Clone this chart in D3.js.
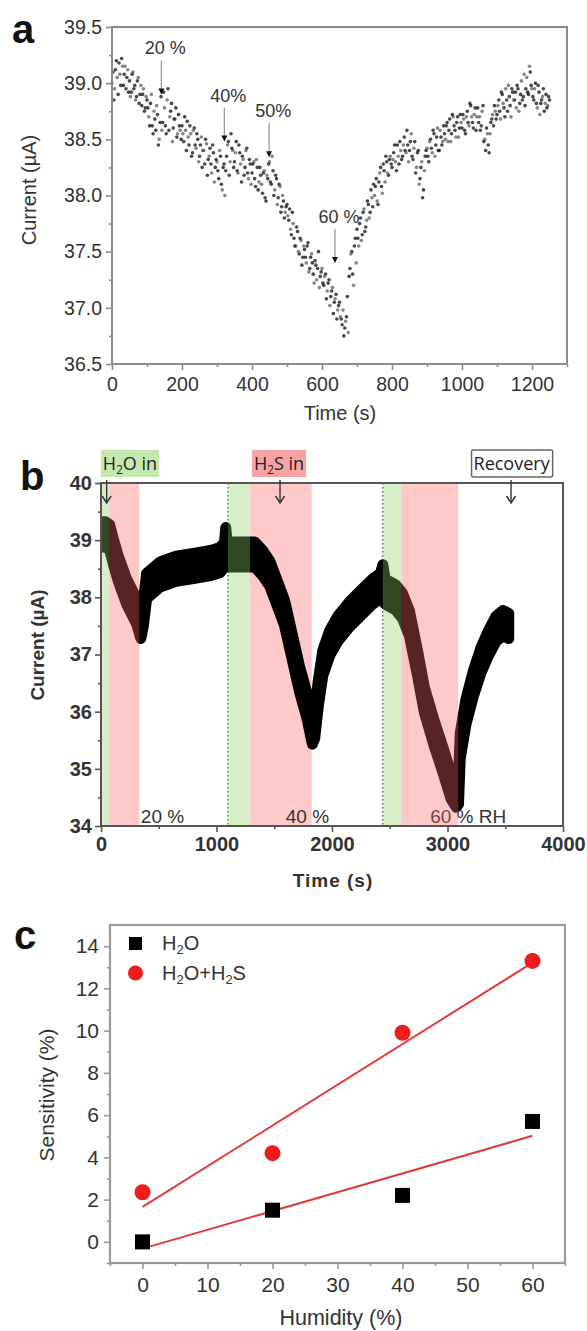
<!DOCTYPE html>
<html>
<head>
<meta charset="utf-8">
<script src="https://cdn.jsdelivr.net/npm/d3@7"></script>
<style>
  body { margin: 0; background: #fff; }
  svg { display: block; }
</style>
</head>
<body>
<div id="chart"></div>
<script>
// ---------- panel a: current vs time, two interleaved readings every 5 s
const aTicksX = [0, 200, 400, 600, 800, 1000, 1200];
const aTicksY = [36.5, 37.0, 37.5, 38.0, 38.5, 39.0, 39.5];
const aStep = 5;
const aCurrent = [
  39.00, 38.85, 39.12, 39.05, 39.18, 38.98, 39.15, 39.08, 38.95, 39.12,
  39.02, 38.92, 39.10, 38.98, 38.88, 39.05, 38.90, 38.80, 38.95, 38.78,
  38.85, 38.70, 38.82, 38.62, 38.75, 38.58, 38.72, 38.50, 38.88, 38.65,
  38.78, 38.55, 38.95, 38.70, 38.82, 38.60, 38.68, 38.52, 38.72, 38.58,
  38.62, 38.48, 38.58, 38.66, 38.45, 38.55, 38.38, 38.60, 38.42, 38.50,
  38.35, 38.52, 38.40, 38.28, 38.46, 38.32, 38.42, 38.20, 38.38, 38.25,
  38.30, 38.15, 38.35, 38.05, 38.28, 38.22, 38.45, 38.18, 38.55, 38.40,
  38.30, 38.48, 38.20, 38.38, 38.12, 38.32, 38.25, 38.42, 38.15, 38.28,
  38.20, 38.30, 38.08, 38.25, 38.12, 38.18, 38.02, 38.22, 37.95, 38.15,
  38.30, 38.10, 38.22, 38.05, 38.15, 37.98, 38.08, 37.90, 37.95, 37.85,
  37.92, 37.78, 37.70, 37.85, 37.62, 37.55, 37.68, 37.48, 37.60, 37.45,
  37.52, 37.40, 37.58, 37.35, 37.48, 37.30, 37.42, 37.25, 37.50, 37.28,
  37.35, 37.20, 37.30, 37.15, 37.25, 37.10, 37.18, 37.05, 37.12, 36.98,
  37.05, 36.90, 36.98, 36.82, 36.92, 36.78, 37.35, 37.50, 37.20, 37.62,
  37.70, 37.55, 37.80, 37.65, 37.88, 37.72, 37.95, 37.80, 38.05, 37.90,
  38.00, 38.15, 37.92, 38.20, 38.08, 38.28, 38.12, 38.30, 38.18, 38.35,
  38.25, 38.38, 38.30, 38.45, 38.28, 38.40, 38.35, 38.52, 38.38, 38.45,
  38.40, 38.55, 38.32, 38.48, 38.25, 38.40, 38.15, 38.30, 38.05, 38.35,
  38.42, 38.30, 38.50, 38.38, 38.55, 38.45, 38.60, 38.40, 38.52, 38.48,
  38.55, 38.62, 38.48, 38.68, 38.55, 38.70, 38.58, 38.65, 38.52, 38.72,
  38.60, 38.68, 38.55, 38.75, 38.62, 38.80, 38.65, 38.72, 38.58, 38.78,
  38.70, 38.62, 38.80, 38.50, 38.60, 38.45, 38.55, 38.68, 38.62, 38.75,
  38.72, 38.85, 38.68, 38.90, 38.78, 38.95, 38.75, 38.88, 38.70, 38.92,
  38.85, 38.78, 38.95, 38.82, 39.02, 38.88, 38.80, 39.05, 38.90, 39.10,
  38.95, 38.85, 39.00, 38.78, 38.92, 38.82, 38.88, 38.75, 38.90, 38.80,
  38.85
];
// second reading, half a step later
const aCurrentB = [
  39.10, 38.95, 39.20, 38.90, 39.08, 39.22, 38.98, 39.15, 39.05, 38.92,
  38.88, 39.08, 38.95, 38.85, 39.02, 38.82, 38.98, 38.90, 38.75, 38.88,
  38.78, 38.62, 38.90, 38.55, 38.68, 38.80, 38.45, 38.65, 38.58, 38.92,
  38.62, 38.85, 38.58, 38.75, 38.48, 38.68, 38.78, 38.55, 38.62, 38.50,
  38.55, 38.70, 38.40, 38.52, 38.62, 38.35, 38.58, 38.45, 38.55, 38.30,
  38.45, 38.25, 38.40, 38.50, 38.18, 38.35, 38.28, 38.45, 38.12, 38.32,
  38.22, 38.40, 38.10, 38.25, 38.00, 38.35, 38.48, 38.30, 38.42, 38.25,
  38.38, 38.22, 38.45, 38.28, 38.35, 38.18, 38.40, 38.20, 38.32, 38.10,
  38.28, 38.15, 38.32, 38.05, 38.25, 38.10, 38.20, 37.98, 38.18, 38.28,
  38.12, 38.35, 38.00, 38.18, 37.92, 38.10, 37.85, 38.00, 37.80, 37.90,
  37.82, 37.88, 37.65, 37.75, 37.55, 37.72, 37.50, 37.62, 37.38, 37.55,
  37.45, 37.55, 37.32, 37.45, 37.40, 37.22, 37.38, 37.35, 37.18, 37.32,
  37.22, 37.28, 37.08, 37.22, 37.02, 37.15, 36.95, 37.08, 36.90, 37.02,
  36.92, 36.85, 36.75, 36.88, 37.10, 37.28, 37.48, 37.30, 37.55, 37.40,
  37.62, 37.75, 37.60, 37.85, 37.68, 37.78, 37.92, 37.85, 37.98, 38.10,
  38.08, 37.95, 38.12, 38.25, 38.02, 38.22, 38.35, 38.20, 38.32, 38.28,
  38.32, 38.45, 38.22, 38.35, 38.48, 38.32, 38.45, 38.40, 38.58, 38.30,
  38.48, 38.35, 38.42, 38.20, 38.38, 38.10, 38.25, 37.98, 38.22, 38.40,
  38.35, 38.48, 38.42, 38.58, 38.35, 38.52, 38.40, 38.58, 38.45, 38.62,
  38.50, 38.65, 38.58, 38.48, 38.72, 38.62, 38.52, 38.70, 38.60, 38.65,
  38.72, 38.58, 38.70, 38.65, 38.82, 38.70, 38.60, 38.78, 38.70, 38.65,
  38.58, 38.75, 38.48, 38.40, 38.55, 38.38, 38.65, 38.72, 38.80, 38.68,
  38.80, 38.75, 38.92, 38.82, 38.70, 38.85, 38.98, 38.80, 38.95, 38.85,
  38.92, 38.98, 38.75, 38.90, 38.85, 39.08, 38.95, 38.92, 39.15, 38.98,
  38.88, 38.95, 38.82, 38.98, 38.72, 38.85, 38.95, 38.82, 38.78, 38.88
];
const aNoteLabels = ['20 %', '40%', '50%', '60 %'];
const aNoteTime = [141, 321, 449, 637];
const aNoteTip = [38.90, 38.48, 38.34, 37.40];

// ---------- panel b: current band with gas phases
const bTicksX = [0, 1000, 2000, 3000, 4000];
const bTicksY = [34, 35, 36, 37, 38, 39, 40];
const bTime = [0, 40, 75, 107, 150, 222, 309, 345, 365, 395, 511, 650, 800, 950, 1030, 1070, 1080, 1090, 1100,
  1200, 1290, 1330, 1400, 1460, 1520, 1590, 1655, 1720, 1785, 1830, 1850, 1880, 1920, 1980, 2050, 2150,
  2250, 2350, 2420, 2440, 2460, 2550, 2610, 2670, 2745, 2800, 2885, 2960, 3030, 3075, 3095, 3110, 3160,
  3225, 3290, 3355, 3420, 3480, 3530];
const bCurrent = [39.10, 39.10, 39.05, 38.80, 38.50, 38.10, 37.75, 37.50, 37.70, 38.20, 38.40, 38.50, 38.55, 38.60, 38.65, 38.75, 39.00, 38.80, 38.75,
  38.75, 38.75, 38.75, 38.60, 38.42, 38.10, 37.72, 37.14, 36.56, 36.09, 35.65, 35.75, 36.30, 36.85, 37.20, 37.45, 37.70,
  37.90, 38.10, 38.20, 38.35, 38.10, 38.00, 37.85, 37.55, 36.80, 36.20, 35.62, 35.16, 34.70, 34.55, 34.60, 35.40, 36.00,
  36.50, 36.90, 37.20, 37.45, 37.55, 37.50];
const bBandStart = [0, 72, 1100, 1290, 2440, 2603];
const bBandEnd = [72, 331, 1290, 1824, 2603, 3093];
const bBandGas = ['H2O', 'H2S', 'H2O', 'H2S', 'H2O', 'H2S'];
const bBandOnTop = [true, true, true, false, true, true];
const bDotted = [1100, 2440];
const bRhLabels = ['20 %', '40 %', '60 % RH'];
const bRhTime = [345, 1600, 2850];
const bNoteKinds = ['H2O', 'H2S', 'Recovery'];
const bNoteArrow = [49, 1550, 3550];
const bNoteCenter = [251, 1541, 3555];

// ---------- panel c: sensitivity vs humidity
const cTicksX = [0, 10, 20, 30, 40, 50, 60];
const cTicksY = [0, 2, 4, 6, 8, 10, 12, 14];
const cHumidity = [0, 20, 40, 60];
const cWater = [0.0, 1.5, 2.2, 5.7];
const cWaterH2S = [2.35, 4.2, 9.9, 13.3];

const W = 587, H = 1331;
const FONT = '"Liberation Sans", Arial, sans-serif';
const PINK = '#ff6464';
const GREEN = '#8cd264';

const svg = d3.select('#chart').append('svg')
  .attr('width', W).attr('height', H)
  .attr('font-family', FONT);
svg.append('rect').attr('width', W).attr('height', H).attr('fill', '#fff');

function drawAxis(g, axis, color, fontSize, weight) {
  g.call(axis);
  g.attr('font-family', FONT).attr('font-size', fontSize);
  g.select('.domain').remove();
  g.selectAll('.tick line').attr('stroke', color).attr('stroke-width', 1.6);
  g.selectAll('.tick text').attr('fill', '#333').attr('font-weight', weight || 'normal');
}

function subText(sel, parts) {
  // parts: [text, isSub]
  parts.forEach(([t, sub]) => {
    sel.append('tspan')
      .attr('baseline-shift', sub ? '-30%' : null)
      .attr('font-size', sub ? '65%' : null)
      .text(t);
  });
}

const gasParts = {
  H2O: [['H', false], ['2', true], ['O in', false]],
  H2S: [['H', false], ['2', true], ['S in', false]],
  Recovery: [['Recovery', false]]
};

// ================= panel a =================
(() => {
  const x = d3.scaleLinear().domain([0, 1300]).range([112, 567]);
  const y = d3.scaleLinear().domain([36.5, 39.5]).range([364, 27]);
  const g = svg.append('g');

  const dots = aCurrent.map((v, i) => ({ t: i * aStep, v }))
    .concat(aCurrentB.map((v, i) => ({ t: i * aStep + aStep / 2, v })));
  g.selectAll('.a-dot')
    .data(dots)
    .join('circle')
    .attr('class', 'a-dot')
    .attr('cx', (d) => x(d.t))
    .attr('cy', (d) => y(d.v))
    .attr('r', 1.8)
    .attr('fill', (_, i) => (i % 3 === 0 ? '#666' : '#1a1a1a'))
    .attr('opacity', 0.8);

  // annotations
  aNoteLabels.forEach((label, i) => {
    const px = x(aNoteTime[i]);
    const tip = y(aNoteTip[i]);
    g.append('line')
      .attr('x1', px).attr('x2', px)
      .attr('y1', tip - 34).attr('y2', tip - 4)
      .attr('stroke', '#9a9a9a').attr('stroke-width', 1.3);
    g.append('path')
      .attr('d', `M${px - 3},${tip - 6}L${px + 3},${tip - 6}L${px},${tip}Z`)
      .attr('fill', '#111');
    g.append('text')
      .attr('x', px + 4).attr('y', tip - 40)
      .attr('text-anchor', 'middle')
      .attr('font-size', 18).attr('fill', '#333')
      .text(label);
  });

  g.append('rect')
    .attr('x', 112).attr('y', 27).attr('width', 455).attr('height', 337)
    .attr('fill', 'none').attr('stroke', '#8c8c8c').attr('stroke-width', 2);

  const minorX = d3.range(100, 1301, 200);
  const minorY = d3.range(36.75, 39.5, 0.5);
  drawAxis(g.append('g').attr('transform', 'translate(0,364)'),
    d3.axisBottom(x).tickValues(minorX).tickSize(3).tickFormat(''), '#8c8c8c', 19);
  drawAxis(g.append('g').attr('transform', 'translate(0,364)'),
    d3.axisBottom(x).tickValues(aTicksX).tickSize(6).tickPadding(7).tickFormat(d3.format('d')), '#8c8c8c', 19.5);
  drawAxis(g.append('g').attr('transform', 'translate(112,0)'),
    d3.axisLeft(y).tickValues(minorY).tickSize(3).tickFormat(''), '#8c8c8c', 19);
  drawAxis(g.append('g').attr('transform', 'translate(112,0)'),
    d3.axisLeft(y).tickValues(aTicksY).tickSize(6).tickPadding(4).tickFormat(d3.format('.1f')), '#8c8c8c', 19.5);

  g.append('text')
    .attr('transform', 'translate(36,190) rotate(-90)')
    .attr('text-anchor', 'middle').attr('font-size', 20).attr('fill', '#333')
    .text('Current (µA)');
  g.append('text')
    .attr('x', 340).attr('y', 420)
    .attr('text-anchor', 'middle').attr('font-size', 20).attr('fill', '#333')
    .text('Time (s)');
  g.append('text')
    .attr('x', 12).attr('y', 43)
    .attr('font-size', 40).attr('font-weight', 'bold').attr('fill', '#111')
    .text('a');
})();

// ================= panel b =================
(() => {
  const x = d3.scaleLinear().domain([0, 4000]).range([101, 563]);
  const y = d3.scaleLinear().domain([34, 40]).range([826, 483]);
  const g = svg.append('g');
  const bands = bBandStart.map((s, i) => ({ s, e: bBandEnd[i], gas: bBandGas[i], top: bBandOnTop[i] }));

  // bands drawn under the curve
  g.selectAll('.b-under')
    .data(bands.filter((d) => !d.top))
    .join('rect')
    .attr('class', 'b-under')
    .attr('x', (d) => x(d.s)).attr('width', (d) => x(d.e) - x(d.s))
    .attr('y', 483).attr('height', 343)
    .attr('fill', (d) => (d.gas === 'H2O' ? '#d7efc9' : '#ffc9c9'));

  bDotted.forEach((t) => {
    g.append('line')
      .attr('x1', x(t)).attr('x2', x(t)).attr('y1', 483).attr('y2', 826)
      .attr('stroke', '#444').attr('stroke-width', 1.3).attr('stroke-dasharray', '1.5,2.5');
  });

  const pts = bTime.map((t, i) => ({ t, v: bCurrent[i] }));
  const band = d3.area()
    .x((d) => x(d.t))
    .y0((d) => y(d.v - 0.22))
    .y1((d) => y(d.v + 0.22));
  g.append('path')
    .datum(pts)
    .attr('d', band)
    .attr('fill', '#000')
    .attr('stroke', '#000')
    .attr('stroke-width', 11)
    .attr('stroke-linejoin', 'round');

  // rh labels (drawn before overlays so they get tinted)
  bRhLabels.forEach((label, i) => {
    g.append('text')
      .attr('x', x(bRhTime[i])).attr('y', 823)
      .attr('font-size', 19).attr('fill', '#333')
      .text(label);
  });

  // translucent overlays
  g.selectAll('.b-over')
    .data(bands.filter((d) => d.top))
    .join('rect')
    .attr('class', 'b-over')
    .attr('x', (d) => x(d.s)).attr('width', (d) => x(d.e) - x(d.s))
    .attr('y', 483).attr('height', 343)
    .attr('fill', (d) => (d.gas === 'H2O' ? GREEN : PINK))
    .attr('opacity', 0.35);

  // white mask where the thick stroke spills past the frame
  g.append('rect').attr('x', 0).attr('y', 470).attr('width', 100).attr('height', 360).attr('fill', '#fff');

  g.append('rect')
    .attr('x', 101).attr('y', 483).attr('width', 462).attr('height', 343)
    .attr('fill', 'none').attr('stroke', '#555').attr('stroke-width', 2);

  drawAxis(g.append('g').attr('transform', 'translate(0,826)'),
    d3.axisBottom(x).tickValues(d3.range(500, 4000, 1000)).tickSize(3).tickFormat(''), '#555', 19);
  drawAxis(g.append('g').attr('transform', 'translate(0,826)'),
    d3.axisBottom(x).tickValues(bTicksX).tickSize(6).tickPadding(5).tickFormat(d3.format('d')), '#555', 20, 'bold');
  drawAxis(g.append('g').attr('transform', 'translate(101,0)'),
    d3.axisLeft(y).tickValues(d3.range(34.5, 40, 1)).tickSize(3).tickFormat(''), '#555', 19);
  drawAxis(g.append('g').attr('transform', 'translate(101,0)'),
    d3.axisLeft(y).tickValues(bTicksY).tickSize(6).tickPadding(3).tickFormat(d3.format('d')), '#555', 20, 'bold');

  // phase notes with arrows
  bNoteKinds.forEach((kind, i) => {
    const cxp = x(bNoteCenter[i]);
    const ax = x(bNoteArrow[i]);
    const label = g.append('text')
      .attr('x', cxp).attr('y', 470)
      .attr('text-anchor', 'middle')
      .attr('font-family', '"Open Sans", "Noto Sans", sans-serif')
      .attr('font-size', 18).attr('fill', '#222');
    subText(label, gasParts[kind]);
    const bb = label.node().getBBox();
    g.insert('rect', () => label.node())
      .attr('x', bb.x - 2).attr('y', 450).attr('width', bb.width + 4).attr('height', 27)
      .attr('rx', kind === 'Recovery' ? 2 : 0)
      .attr('fill', kind === 'H2O' ? '#c6e8b0' : kind === 'H2S' ? '#f7a3a3' : '#fff')
      .attr('stroke', kind === 'Recovery' ? '#666' : 'none')
      .attr('stroke-width', 1.5);
    g.append('line')
      .attr('x1', ax).attr('x2', ax).attr('y1', 480).attr('y2', 503)
      .attr('stroke', '#333').attr('stroke-width', 1.4);
    g.append('path')
      .attr('d', `M${ax - 4.5},${496}L${ax},${503}L${ax + 4.5},${496}`)
      .attr('fill', 'none').attr('stroke', '#333').attr('stroke-width', 1.4);
  });

  g.append('text')
    .attr('transform', 'translate(44,645) rotate(-90)')
    .attr('text-anchor', 'middle').attr('font-size', 19).attr('font-weight', 'bold').attr('fill', '#333')
    .text('Current (µA)');
  g.append('text')
    .attr('x', 333).attr('y', 887)
    .attr('text-anchor', 'middle').attr('font-size', 19).attr('font-weight', 'bold')
    .attr('letter-spacing', 1).attr('fill', '#333')
    .text('Time (s)');
  g.append('text')
    .attr('x', 20).attr('y', 490)
    .attr('font-size', 40).attr('font-weight', 'bold').attr('fill', '#111')
    .text('b');
})();

// ================= panel c =================
(() => {
  const x = d3.scaleLinear().domain([-5, 65]).range([110, 565]);
  const y = d3.scaleLinear().domain([-1, 15]).range([1263, 925]);
  const g = svg.append('g');

  function fit(xs, ys) {
    const mx = d3.mean(xs), my = d3.mean(ys);
    const slope = d3.sum(xs, (v, i) => (v - mx) * (ys[i] - my)) / d3.sum(xs, (v) => (v - mx) ** 2);
    return [xs[0], xs[xs.length - 1]].map((v) => ({ h: v, s: my + slope * (v - mx) }));
  }
  const line = d3.line().x((d) => x(d.h)).y((d) => y(d.s));
  [cWater, cWaterH2S].forEach((series) => {
    g.append('path')
      .datum(fit(cHumidity, series))
      .attr('d', line)
      .attr('fill', 'none').attr('stroke', '#e23b3b').attr('stroke-width', 2);
  });

  g.selectAll('.c-sq')
    .data(cWater)
    .join('rect')
    .attr('class', 'c-sq')
    .attr('x', (d, i) => x(cHumidity[i]) - 7.5).attr('y', (d) => y(d) - 7.5)
    .attr('width', 15).attr('height', 15)
    .attr('fill', '#000');
  g.selectAll('.c-dot')
    .data(cWaterH2S)
    .join('circle')
    .attr('class', 'c-dot')
    .attr('cx', (d, i) => x(cHumidity[i])).attr('cy', (d) => y(d))
    .attr('r', 8)
    .attr('fill', '#ee1c1c');

  g.append('rect')
    .attr('x', 110).attr('y', 925).attr('width', 455).attr('height', 338)
    .attr('fill', 'none').attr('stroke', '#9a9a9a').attr('stroke-width', 2.2);

  drawAxis(g.append('g').attr('transform', 'translate(0,1263)'),
    d3.axisBottom(x).tickValues(d3.range(-5, 66, 10)).tickSize(3).tickFormat(''), '#9a9a9a', 20);
  drawAxis(g.append('g').attr('transform', 'translate(0,1263)'),
    d3.axisBottom(x).tickValues(cTicksX).tickSize(6).tickPadding(8).tickFormat(d3.format('d')), '#9a9a9a', 21);
  drawAxis(g.append('g').attr('transform', 'translate(110,0)'),
    d3.axisLeft(y).tickValues(d3.range(-1, 15, 2)).tickSize(3).tickFormat(''), '#9a9a9a', 20);
  drawAxis(g.append('g').attr('transform', 'translate(110,0)'),
    d3.axisLeft(y).tickValues(cTicksY).tickSize(6).tickPadding(5).tickFormat(d3.format('d')), '#9a9a9a', 21);

  // legend
  g.append('rect').attr('x', 129).attr('y', 937).attr('width', 13).attr('height', 13).attr('fill', '#000');
  g.append('circle').attr('cx', 135.5).attr('cy', 973).attr('r', 7.5).attr('fill', '#ee1c1c');
  const l1 = g.append('text').attr('x', 162).attr('y', 950).attr('font-size', 20).attr('fill', '#333');
  subText(l1, [['H', false], ['2', true], ['O', false]]);
  const l2 = g.append('text').attr('x', 162).attr('y', 980).attr('font-size', 20).attr('fill', '#333');
  subText(l2, [['H', false], ['2', true], ['O+H', false], ['2', true], ['S', false]]);

  g.append('text')
    .attr('transform', 'translate(54,1095) rotate(-90)')
    .attr('text-anchor', 'middle').attr('font-size', 21).attr('fill', '#333')
    .text('Sensitivity (%)');
  g.append('text')
    .attr('x', 341).attr('y', 1325)
    .attr('text-anchor', 'middle').attr('font-size', 21.5).attr('fill', '#333')
    .text('Humidity (%)');
  g.append('text')
    .attr('x', 14).attr('y', 949)
    .attr('font-size', 40).attr('font-weight', 'bold').attr('fill', '#111')
    .text('c');
})();
</script>
</body>
</html>
